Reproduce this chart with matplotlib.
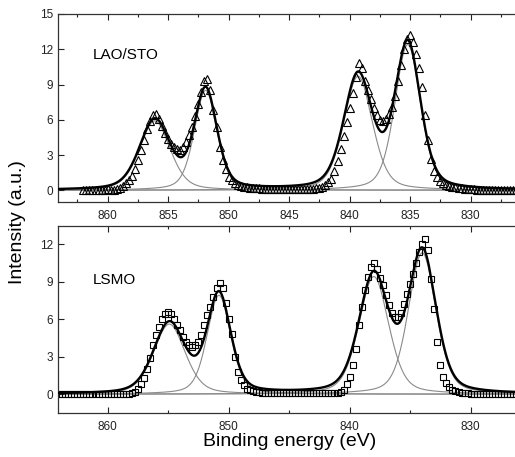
import numpy as np
import matplotlib
matplotlib.use("Agg")
import matplotlib.pyplot as plt
from matplotlib.ticker import MultipleLocator

plt.rcParams['font.family'] = ['Liberation Sans', 'DejaVu Sans']

# ---------------- data ----------------
# LAO/STO measured points (open triangles), 0.25 eV steps from 862.0 eV downward
lao_start = 862.0
lao_int = [
    0.05, 0.06, 0.05, 0.06,   # 862
    0.05, 0.06, 0.05, 0.06,   # 861
    0.07, 0.06, 0.06, 0.10,   # 860
    0.20, 0.35, 0.60, 0.90,   # 859
    1.25, 1.80, 2.60, 3.40,   # 858
    4.30, 5.20, 5.90, 6.40,   # 857
    6.50, 6.10, 5.50, 4.90,   # 856
    4.40, 3.95, 3.70, 3.50,   # 855
    3.45, 3.70, 4.10, 4.70,   # 854
    5.40, 6.30, 7.30, 8.40,   # 853
    9.30, 9.50, 8.50, 6.80,   # 852
    5.40, 3.70, 2.60, 1.80,   # 851
    1.15, 0.85, 0.60, 0.45,   # 850
    0.35, 0.30, 0.25, 0.20,   # 849
    0.18, 0.16, 0.15, 0.14,   # 848
    0.13, 0.12, 0.12, 0.11,   # 847
    0.10, 0.10, 0.11, 0.10,   # 846
    0.10, 0.09, 0.10, 0.10,   # 845
    0.10, 0.10, 0.10, 0.11,   # 844
    0.12, 0.15, 0.20, 0.30,   # 843
    0.45, 0.70, 1.00, 1.60,   # 842
    2.50, 3.50, 4.60, 5.80,   # 841
    7.00, 8.30, 9.60, 10.80,  # 840
    10.40, 9.30, 8.50, 7.80,  # 839
    7.00, 6.40, 6.00, 5.90,   # 838
    6.10, 6.50, 7.10, 8.00,   # 837
    9.30, 10.70, 12.00, 12.90,  # 836
    13.20, 12.60, 11.60, 10.40,  # 835
    8.80, 6.40, 4.30, 2.70,   # 834
    1.60, 1.10, 0.80, 0.60,   # 833
    0.45, 0.35, 0.30, 0.25,   # 832
    0.20, 0.15, 0.12, 0.10,   # 831
    0.08, 0.07, 0.06, 0.06,   # 830
    0.05, 0.06, 0.05, 0.05,   # 829
    0.05, 0.04, 0.05, 0.05,   # 828
    0.04, 0.05, 0.04, 0.05,   # 827
]

# LSMO measured points (open squares), 0.25 eV steps from 864.0 eV downward
lsmo_start = 864.0
lsmo_int = [
    0.02, 0.03, 0.02, 0.03,   # 864
    0.02, 0.03, 0.02, 0.03,   # 863
    0.02, 0.03, 0.02, 0.03,   # 862
    0.02, 0.03, 0.02, 0.03,   # 861
    0.02, 0.03, 0.02, 0.03,   # 860
    0.03, 0.02, 0.03, 0.03,   # 859
    0.10, 0.20, 0.40, 0.80,   # 858
    1.30, 2.00, 2.90, 3.90,   # 857
    4.70, 5.40, 6.00, 6.40,   # 856
    6.60, 6.40, 6.00, 5.50,   # 855
    5.10, 4.60, 4.20, 3.90,   # 854
    3.80, 3.90, 4.20, 4.70,   # 853
    5.50, 6.30, 7.00, 7.80,   # 852
    8.50, 8.90, 8.50, 7.30,   # 851
    6.00, 4.80, 3.00, 1.80,   # 850
    1.10, 0.70, 0.40, 0.30,   # 849
    0.25, 0.20, 0.15, 0.12,   # 848
    0.10, 0.10, 0.09, 0.08,   # 847
    0.08, 0.07, 0.08, 0.08,   # 846
    0.07, 0.08, 0.07, 0.08,   # 845
    0.08, 0.07, 0.08, 0.07,   # 844
    0.08, 0.08, 0.07, 0.08,   # 843
    0.07, 0.08, 0.08, 0.07,   # 842
    0.08, 0.15, 0.35, 0.80,   # 841
    1.40, 2.30, 3.60, 5.50,   # 840
    7.00, 8.30, 9.40, 10.20,  # 839
    10.50, 10.00, 9.30, 8.70,  # 838
    7.90, 7.10, 6.50, 6.20,   # 837
    6.20, 6.50, 7.20, 8.00,   # 836
    8.80, 9.60, 10.50, 11.40,  # 835
    12.00, 12.40, 11.50, 9.20,  # 834
    6.80, 4.20, 2.30, 1.40,   # 833
    0.90, 0.55, 0.35, 0.25,   # 832
    0.15, 0.10, 0.08, 0.06,   # 831
    0.05, 0.05, 0.04, 0.05,   # 830
    0.05, 0.04, 0.05, 0.05,   # 829
    0.04, 0.05, 0.05, 0.04,   # 828
    0.05, 0.04, 0.05, 0.05,   # 827
]
step = 0.25

# fitted pseudo-Voigt components (center eV, height, FWHM eV)
lao_centers = [856.1, 851.9, 839.3, 835.2]
lao_heights = [5.9, 8.5, 9.7, 12.4]
lao_widths = [3.0, 2.2, 2.8, 2.5]

lsmo_centers = [854.9, 850.8, 838.0, 834.0]
lsmo_heights = [5.6, 7.9, 9.4, 11.3]
lsmo_widths = [3.1, 2.3, 2.9, 2.7]
lorentz_frac = 0.35

sample_labels = ["LAO/STO", "LSMO"]
x_label = "Binding energy (eV)"
y_label = "Intensity (a.u.)"


def pvoigt(x, c, h, w, eta):
    d = x - c
    L = 1.0 / (1.0 + (2.0 * d / w) ** 2)
    G = np.exp(-4.0 * np.log(2.0) * d ** 2 / w ** 2)
    return h * (eta * L + (1 - eta) * G)


W, H = 515, 457
fig = plt.figure(figsize=(W / 100, H / 100), dpi=100)

xlim = (864.1, 826.0)


def frac(px_left, px_top, px_right, px_bottom):
    return [px_left / W, 1 - px_bottom / H, (px_right - px_left) / W, (px_bottom - px_top) / H]


ax1 = fig.add_axes(frac(58, 14, 58 + (xlim[0] - xlim[1]) * 12.1, 202))
ax2 = fig.add_axes(frac(58, 226, 58 + (xlim[0] - xlim[1]) * 12.1, 413))

xfine = np.linspace(xlim[1], xlim[0], 1500)

panels = [
    (ax1, lao_start, lao_int, lao_centers, lao_heights, lao_widths, '^', 5.8, (-1, 15), 15, 5, 2.5, (861.2, 11.5)),
    (ax2, lsmo_start, lsmo_int, lsmo_centers, lsmo_heights, lsmo_widths, 's', 4.7, (-1.5, 13.44), 12, 10, 5, (861.2, 9.1)),
]

for i, (ax, start, ints, cs, hs, ws, mk, ms, ylim, ymax, xmaj, xmin, lblpos) in enumerate(panels):
    ints = np.array(ints)
    energies = start - step * np.arange(len(ints))
    total = np.zeros_like(xfine)
    for c, h, w in zip(cs, hs, ws):
        comp = pvoigt(xfine, c, h, w, lorentz_frac)
        total += comp
        ax.plot(xfine, comp, color='#8a8a8a', lw=0.8, zorder=1)
    ax.plot(energies, ints, linestyle='none', marker=mk, ms=ms, mfc='none',
            mec='black', mew=0.8, zorder=2)
    ax.plot(xfine, total, color='black', lw=1.7, zorder=3)

    ax.set_xlim(*xlim)
    ax.set_ylim(*ylim)
    ax.set_yticks(np.arange(0, ymax + 1, 3))
    ax.xaxis.set_major_locator(MultipleLocator(xmaj))
    ax.xaxis.set_minor_locator(MultipleLocator(xmin))
    ax.set_xticks([860, 855, 850, 845, 840, 835, 830] if xmaj == 5 else [860, 850, 840, 830])
    ax.tick_params(axis='both', which='both', direction='in', top=True, right=False,
                   labelsize=8.5, colors='#222222', width=0.8)
    ax.tick_params(axis='both', which='major', length=4)
    ax.tick_params(axis='both', which='minor', length=2.5)
    ax.tick_params(axis='x', pad=6)
    for s in ['left', 'bottom', 'top']:
        ax.spines[s].set_color('#333333')
        ax.spines[s].set_linewidth(0.9)
    ax.spines['right'].set_visible(False)
    ax.text(lblpos[0], lblpos[1], sample_labels[i], fontsize=11, ha='left', va='center')

fig.text(290 / W, 1 - 442 / H, x_label, fontsize=14, ha='center', va='center')
fig.text(18 / W, 1 - 222 / H, y_label, fontsize=14, ha='center', va='center', rotation=90)

fig.savefig("out.png", dpi=100)
